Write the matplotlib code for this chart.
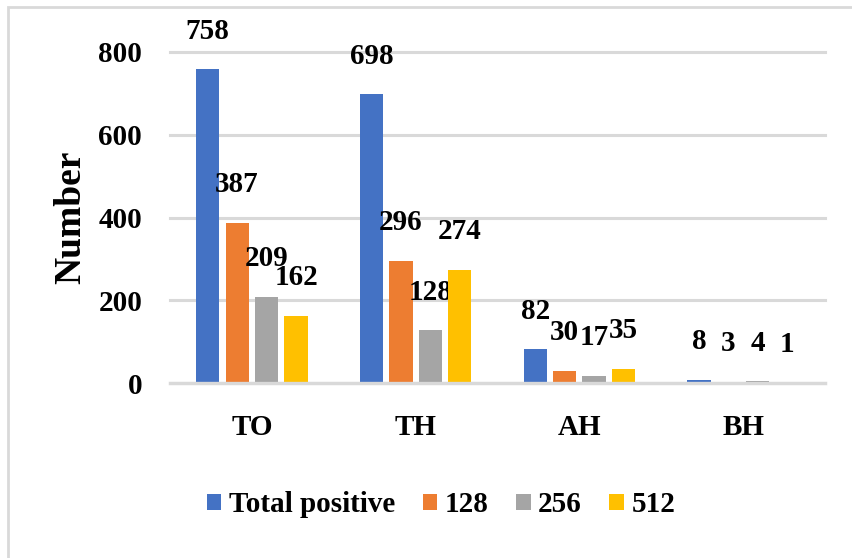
import numpy as np
import matplotlib
matplotlib.use("Agg")
import matplotlib.pyplot as plt
from matplotlib.patches import Rectangle

# data
categories = ['TO', 'TH', 'AH', 'BH']
series_names = ['Total positive', '128', '256', '512']
total_positive = [758, 698, 82, 8]
titre_128 = [387, 296, 30, 3]
titre_256 = [209, 128, 17, 4]
titre_512 = [162, 274, 35, 1]
y_ticks = [0, 200, 400, 600, 800]

colors = ['#4472C4', '#ED7D31', '#A5A5A5', '#FFC000']

plt.rcParams['font.family'] = ['Liberation Serif', 'DejaVu Serif']
plt.rcParams['font.weight'] = 'bold'

fig = plt.figure(figsize=(8.52, 5.58), dpi=100)
ax = fig.add_axes([170/852, 1-383/558, 655/852, 331/558])

# outer chart border (runs off the right/bottom edge like the crop)
fig.patches.append(Rectangle((8/852, -0.05), 1.2, 1 - 7/558 + 0.05,
                             transform=fig.transFigure, fill=False,
                             edgecolor='#D9D9D9', linewidth=2))

x = np.arange(len(categories))
step = 0.18
width = 0.142
all_series = [total_positive, titre_128, titre_256, titre_512]

for i, (vals, name) in enumerate(zip(all_series, series_names)):
    pos = x + (i - 1.5) * step
    bars = ax.bar(pos, vals, width, color=colors[i], label=name, zorder=3)
    for b, v in zip(bars, vals):
        ax.annotate(str(v), (b.get_x() + b.get_width()/2, b.get_height()),
                    xytext=(0, 38), textcoords='offset pixels',
                    ha='center', va='center', fontsize=21,
                    fontweight='bold', color='black')

ax.set_xlim(-0.5, 3.5)
ax.set_ylim(0, 800)
ax.set_yticks(y_ticks)
ax.set_xticks(x)
ax.set_xticklabels(categories)
ax.tick_params(axis='both', length=0, labelsize=21)
ax.tick_params(axis='y', pad=20)
ax.tick_params(axis='x', pad=22)

ax.yaxis.grid(True, color='#D9D9D9', linewidth=2.2, zorder=0)
ax.set_axisbelow(True)
for gl in ax.get_ygridlines():
    gl.set_clip_on(False)
for s in ax.spines.values():
    s.set_visible(False)
# category axis line sits over the bar bottoms
ax.axhline(0, color='#D9D9D9', linewidth=2.4, zorder=4, clip_on=False)

ax.set_ylabel('Number', fontsize=27, fontweight='bold', va='center')
ax.yaxis.set_label_coords((71-170)/655, 0.5)

fig.legend(loc='center', bbox_to_anchor=(441/852, 1-505/558), ncol=4,
           frameon=False, fontsize=21, handlelength=0.5, handleheight=0.5,
           handletextpad=0.25, columnspacing=0.95)

fig.savefig('out.png', dpi=100)
